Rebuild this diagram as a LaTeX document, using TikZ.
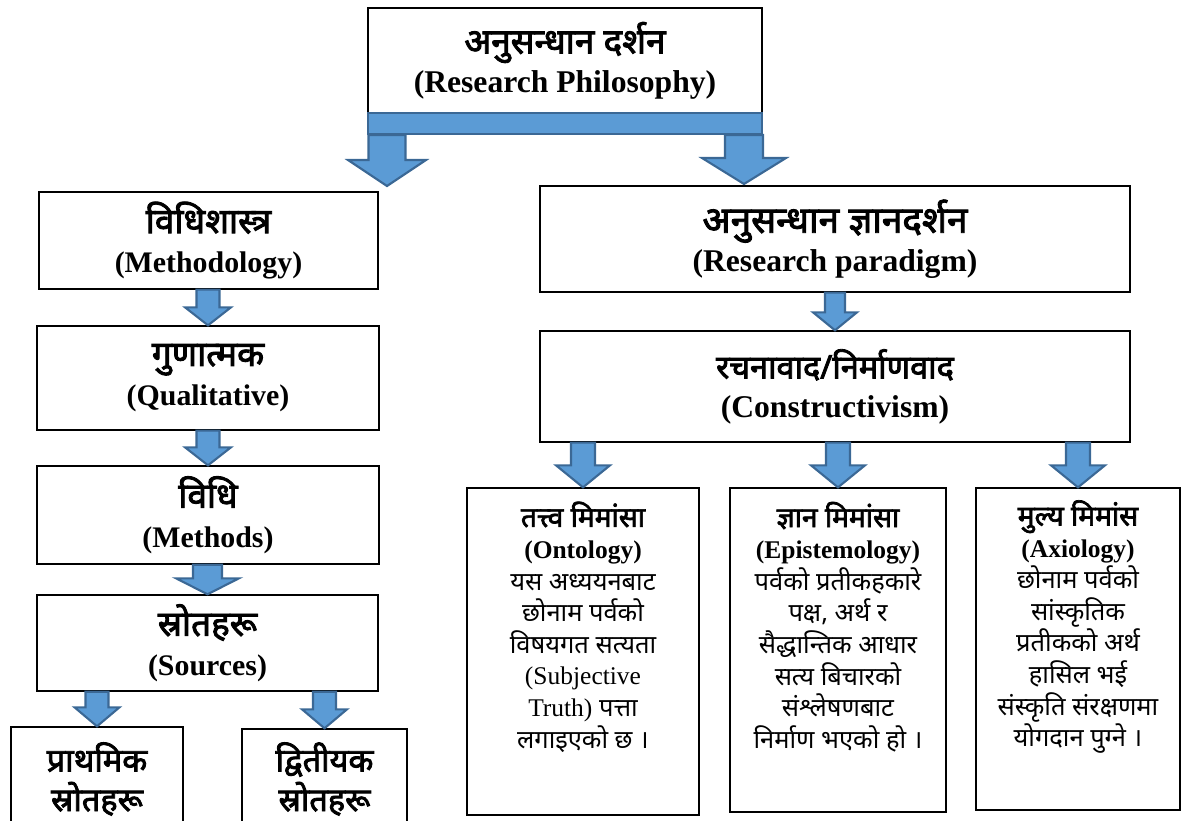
\documentclass[tikz,border=0pt]{standalone}
\usepackage{fontspec}
\setmainfont{Liberation Serif}
\newfontfamily\deva[Script=Devanagari, BoldFont={Noto Sans}, BoldFeatures={FakeBold=2.5}]{Noto Sans}
\usetikzlibrary{calc,positioning}
\definecolor{ArrowBlue}{HTML}{5B9BD5}
\definecolor{ArrowEdge}{HTML}{3B6895}
\newcommand\eng[1]{{\rmfamily #1}}
\newcommand\devh[2][20]{{\deva\bfseries\fontsize{#1}{22}\selectfont #2}}
\newcommand\nodephil{\devh{अनुसन्धान दर्शन}\\(Research Philosophy)}
\newcommand\nodemeth{\devh{विधिशास्त्र}\\(Methodology)}
\newcommand\nodequal{\devh{गुणात्मक}\\(Qualitative)}
\newcommand\nodemthd{\devh{विधि}\\(Methods)}
\newcommand\nodesrc{\devh{स्रोतहरू}\\(Sources)}
\newcommand\nodeprim{\devh[18.5]{प्राथमिक}\\\devh[18.5]{स्रोतहरू}}
\newcommand\nodesec{\devh[18.5]{द्वितीयक}\\\devh[18.5]{स्रोतहरू}}
\newcommand\nodepara{\devh[21]{अनुसन्धान ज्ञानदर्शन}\\(Research paradigm)}
\newcommand\nodecons{\devh[18.5]{रचनावाद/निर्माणवाद}\\(Constructivism)}
\newcommand\nodeonto{\devh[16]{तत्त्व मिमांसा}\\\eng{\bfseries (Ontology)}\\यस अध्ययनबाट\\छोनाम पर्वको\\विषयगत सत्यता\\\eng{(Subjective}\\\eng{Truth)} पत्ता\\लगाइएको छ ।}
\newcommand\nodeepis{\devh[16]{ज्ञान मिमांसा}\\\eng{\bfseries (Epistemology)}\\पर्वको प्रतीकहकारे\\पक्ष, अर्थ र\\सैद्धान्तिक आधार\\सत्य बिचारको\\संश्लेषणबाट\\निर्माण भएको हो ।}
\newcommand\nodeaxio{\devh[16]{मुल्य मिमांस}\\\eng{\bfseries (Axiology)}\\छोनाम पर्वको\\सांस्कृतिक\\प्रतीकको अर्थ\\हासिल भई\\संस्कृति संरक्षणमा\\योगदान पुग्ने ।}
\tikzstyle{boxstyle} = [rectangle, draw=black, line width=0.8pt, inner sep=0pt]
\tikzstyle{hbox} = [boxstyle, align=center, font=\bfseries\fontsize{18}{22}\selectfont]
\tikzstyle{lbox} = [boxstyle, align=center, font=\bfseries\fontsize{17}{22.5}\selectfont]
\tikzstyle{bodytext} = [align=center, font=\deva\fontsize{14.5}{18}\selectfont]
\tikzstyle{bar} = [rectangle, draw=ArrowEdge, fill=ArrowBlue, line width=1.2pt, inner sep=0pt]
\tikzset{
  blockarrow/.style n args={3}{draw=ArrowEdge, fill=ArrowBlue, line width=1.2pt,
    to path={let \p1=(\tikztostart), \p2=(\tikztotarget) in
      (\x2-#1*0.569pt,\y1) -- (\x2+#1*0.569pt,\y1) -- (\x2+#1*0.569pt,\y2+#3*0.569pt)
      -- (\x2+#2*0.569pt,\y2+#3*0.569pt) -- (\x2,\y2) -- (\x2-#2*0.569pt,\y2+#3*0.569pt)
      -- (\x2-#1*0.569pt,\y2+#3*0.569pt) -- cycle}}
}

\begin{document}
\begin{tikzpicture}[x=0.02cm, y=-0.02cm]
\useasboundingbox (0,0) rectangle (1187,821);
\clip (0,0) rectangle (1187,821);
% top
\node[hbox, minimum width=7.88cm, minimum height=2.1cm] (phil) at (565,60.5) {\nodephil};
\node[bar, minimum width=7.88cm, minimum height=0.42cm] (bar) at (565,123.5) {};
\coordinate (lefttip) at (387,186);
\coordinate (righttip) at (744,184);
% left column
\node[lbox, minimum width=6.78cm, minimum height=1.94cm] (meth) at (208.5,240.5) {\nodemeth};
\node[lbox, minimum width=6.84cm, minimum height=2.08cm] (qual) at (208,378) {\nodequal};
\node[lbox, minimum width=6.84cm, minimum height=1.96cm] (mthd) at (208,515) {\nodemthd};
\node[lbox, minimum width=6.82cm, minimum height=1.92cm] (src) at (207.5,643) {\nodesrc};
\node[lbox, minimum width=3.44cm, minimum height=2.08cm] (prim) at (97,779) {\nodeprim};
\node[lbox, minimum width=3.30cm, minimum height=2.0cm] (sec) at (324.5,779) {\nodesec};
% right column
\node[hbox, minimum width=11.8cm, minimum height=2.12cm] (para) at (835,239) {\nodepara};
\node[hbox, minimum width=11.8cm, minimum height=2.22cm] (cons) at (835,386.5) {\nodecons};
\node[boxstyle, minimum width=4.64cm, minimum height=6.54cm] (onto) at (583,651.5) {};
\node[boxstyle, minimum width=4.32cm, minimum height=6.48cm] (epis) at (838,650) {};
\node[boxstyle, minimum width=4.08cm, minimum height=6.44cm] (axio) at (1078,649) {};
\node[bodytext] (ontotext) at (583,627) {\nodeonto};
\node[bodytext] (epistext) at (838,627) {\nodeepis};
\node[bodytext] (axiotext) at (1078,627) {\nodeaxio};
% arrows
\draw[blockarrow={18.5}{39}{26}] (bar.south) to (lefttip);
\draw[blockarrow={19}{42}{26}] (bar.south) to (righttip);
\draw[blockarrow={11.5}{23}{18}] (meth.south) to (qual.north);
\draw[blockarrow={11.5}{23}{18}] (qual.south) to (mthd.north);
\draw[blockarrow={14.5}{31.5}{16}] (mthd.south) to (src.north);
\draw[blockarrow={11.5}{22.5}{19}] (src.south -| prim.north) to (prim.north);
\draw[blockarrow={11.5}{22.5}{19}] (src.south -| sec.north) to (sec.north);
\draw[blockarrow={10}{22}{18}] (para.south) to (cons.north);
\draw[blockarrow={12}{27}{22}] (cons.south -| onto.north) to (onto.north);
\draw[blockarrow={12}{27}{22}] (cons.south -| epis.north) to (epis.north);
\draw[blockarrow={12}{27}{22}] (cons.south -| axio.north) to (axio.north);
\end{tikzpicture}
\end{document}
